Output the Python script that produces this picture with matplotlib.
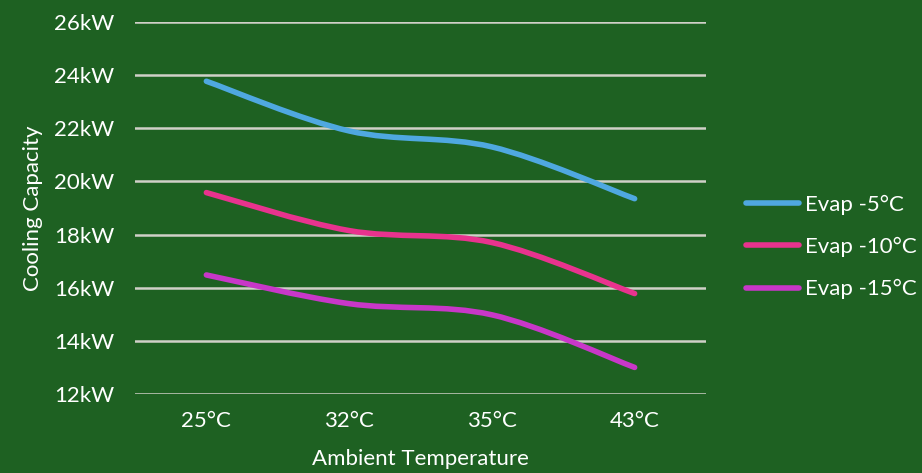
import numpy as np
import matplotlib.pyplot as plt
from matplotlib.path import Path
from matplotlib.patches import PathPatch
from matplotlib.lines import Line2D

# Data
categories = ['25°C', '32°C', '35°C', '43°C']
evap_5 = [23.77, 21.9, 21.3, 19.35]
evap_10 = [19.58, 18.15, 17.7, 15.78]
evap_15 = [16.48, 15.4, 14.98, 13.0]
series_names = ['Evap -5°C', 'Evap -10°C', 'Evap -15°C']
yticks = [12, 14, 16, 18, 20, 22, 24, 26]
ytick_labels = ['%dkW' % v for v in yticks]

bg = '#1e6122'
colors = ['#4fa8e0', '#e8338e', '#c837c8']

plt.rcParams['font.family'] = ['Lato', 'DejaVu Sans']


def smooth_path(x, y):
    # Excel-style smoothed line: cubic Bezier through each point
    pts = np.column_stack([x, y]).astype(float)
    n = len(pts)
    verts = [pts[0]]
    codes = [Path.MOVETO]
    for i in range(n - 1):
        p0 = pts[i - 1] if i > 0 else pts[i]
        p1 = pts[i]
        p2 = pts[i + 1]
        p3 = pts[i + 2] if i + 2 < n else pts[i + 1]
        c1 = p1 + (p2 - p0) / 6
        c2 = p2 - (p3 - p1) / 6
        verts += [c1, c2, p2]
        codes += [Path.CURVE4] * 3
    return Path(verts, codes)


fig = plt.figure(figsize=(9.22, 4.73), dpi=100, facecolor=bg)
ax = fig.add_axes([135 / 922, 1 - 394 / 473, 571 / 922, 372 / 473])
ax.set_facecolor(bg)

x = np.arange(len(categories))
for vals, c in zip([evap_5, evap_10, evap_15], colors):
    patch = PathPatch(smooth_path(x, vals), facecolor='none', edgecolor=c,
                      lw=4, capstyle='round', joinstyle='round')
    ax.add_patch(patch)

ax.set_xlim(-0.5, len(categories) - 0.5)
ax.set_ylim(12, 26)
ax.set_yticks(yticks)
ax.set_yticklabels(ytick_labels)
ax.set_xticks(x)
ax.set_xticklabels(categories)
ax.grid(axis='y', color='#d0d0c8', lw=1.8)
ax.set_axisbelow(True)
for s in ax.spines.values():
    s.set_visible(False)
ax.tick_params(length=0, colors='white', labelsize=16)
ax.tick_params(axis='y', pad=15)
ax.tick_params(axis='x', pad=12)
ax.set_xlabel('Ambient Temperature', color='white', fontsize=16, labelpad=13)
ax.set_ylabel('Cooling Capacity', color='white', fontsize=16, labelpad=8)

handles = [Line2D([0], [0], color=c, lw=4, solid_capstyle='round') for c in colors]
fig.legend(handles, series_names, loc='center left', bbox_to_anchor=(737 / 922, 1 - 247 / 473),
           frameon=False, fontsize=16, labelcolor='white', handlelength=2.4,
           handletextpad=0.25, labelspacing=1.0, borderaxespad=0)

fig.savefig('out.png', dpi=100, facecolor=bg)
